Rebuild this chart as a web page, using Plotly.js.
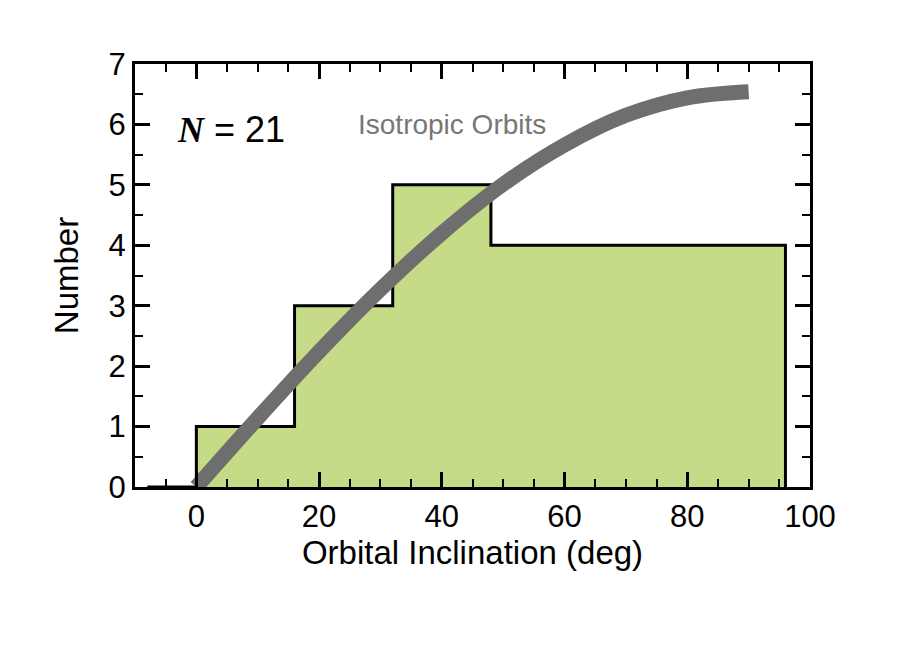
<!DOCTYPE html>
<html>
<head>
<meta charset="utf-8">
<script src="https://cdn.plot.ly/plotly-3.0.1.min.js"></script>
<style>
  html, body { margin: 0; padding: 0; background: #fff; }
  #plot { width: 900px; height: 650px; }
</style>
</head>
<body>
<div id="plot"></div>
<script>
// histogram bins (deg) and counts
const binEdges = [0, 16, 32, 48, 96];
const counts = [1, 3, 5, 4];
const baseStart = -8;   // the flat line drawn left of the first bin

// isotropic orbits curve
const isoX = [0, 10, 20, 30, 40, 50, 60, 70, 80, 90];
const isoY = [0, 1.14, 2.24, 3.27, 4.20, 5.01, 5.66, 6.15, 6.44, 6.54];

const xTicks = [0, 20, 40, 60, 80, 100];
const yTicks = [0, 1, 2, 3, 4, 5, 6, 7];

// build the step outline from the bin edges
let stepX = [baseStart];
let stepY = [0];
for (let i = 0; i < counts.length; i++) {
    stepX.push(binEdges[i]);
    stepY.push(counts[i]);
}
stepX.push(binEdges[binEdges.length - 1]);
stepY.push(0);

const font = "Liberation Sans, Arial, Helvetica, sans-serif";

const data = [
    {
        x: stepX, y: stepY, type: 'scatter', mode: 'lines',
        line: { shape: 'hv', color: '#000', width: 3 },
        fill: 'tozeroy', fillcolor: '#c6db88',
        hoverinfo: 'skip', showlegend: false
    },
    {
        x: isoX, y: isoY, type: 'scatter', mode: 'lines',
        line: { shape: 'spline', color: '#6e6e6e', width: 15 },
        hoverinfo: 'skip', showlegend: false
    }
];

const axisCommon = {
    showgrid: false, zeroline: false,
    showline: true, linecolor: '#000', linewidth: 3,
    mirror: 'ticks', ticks: 'inside', ticklen: 15, tickwidth: 3, tickcolor: '#000',
    tickfont: { family: font, size: 31, color: '#000' },
    fixedrange: true
};

const layout = {
    width: 900, height: 650,
    margin: { l: 135, r: 90, t: 64, b: 163 },
    paper_bgcolor: '#fff', plot_bgcolor: '#fff',
    font: { family: font, color: '#000' },
    xaxis: Object.assign({}, axisCommon, {
        range: [-10, 100],
        tickmode: 'array', tickvals: xTicks, ticktext: xTicks.map(String),
        minor: { dtick: 5, ticks: 'inside', ticklen: 8, tickwidth: 2, tickcolor: '#000' },
        title: { text: 'Orbital Inclination (deg)', font: { family: font, size: 33, color: '#000' }, standoff: 0 }
    }),
    yaxis: Object.assign({}, axisCommon, {
        range: [0, 7],
        tickmode: 'array', tickvals: yTicks, ticktext: yTicks.map(String),
        minor: { dtick: 0.5, ticks: 'inside', ticklen: 8, tickwidth: 2, tickcolor: '#000' },
        title: { text: 'Number', font: { family: font, size: 33, color: '#000' }, standoff: 20 }
    }),
    annotations: [
        {
            x: 0.142, y: 0.844, xref: 'paper', yref: 'paper',
            text: '<span style="font-family:Liberation Serif, Times New Roman, serif"><b><i>N</i></b></span> = 21',
            showarrow: false,
            font: { family: font, size: 36, color: '#000' }, xanchor: 'center', yanchor: 'middle'
        },
        {
            x: 0.469, y: 0.858, xref: 'paper', yref: 'paper',
            text: 'Isotropic Orbits', showarrow: false,
            font: { family: font, size: 28, color: '#777' }, xanchor: 'center', yanchor: 'middle'
        }
    ]
};

Plotly.newPlot('plot', data, layout, { staticPlot: true });
</script>
</body>
</html>
